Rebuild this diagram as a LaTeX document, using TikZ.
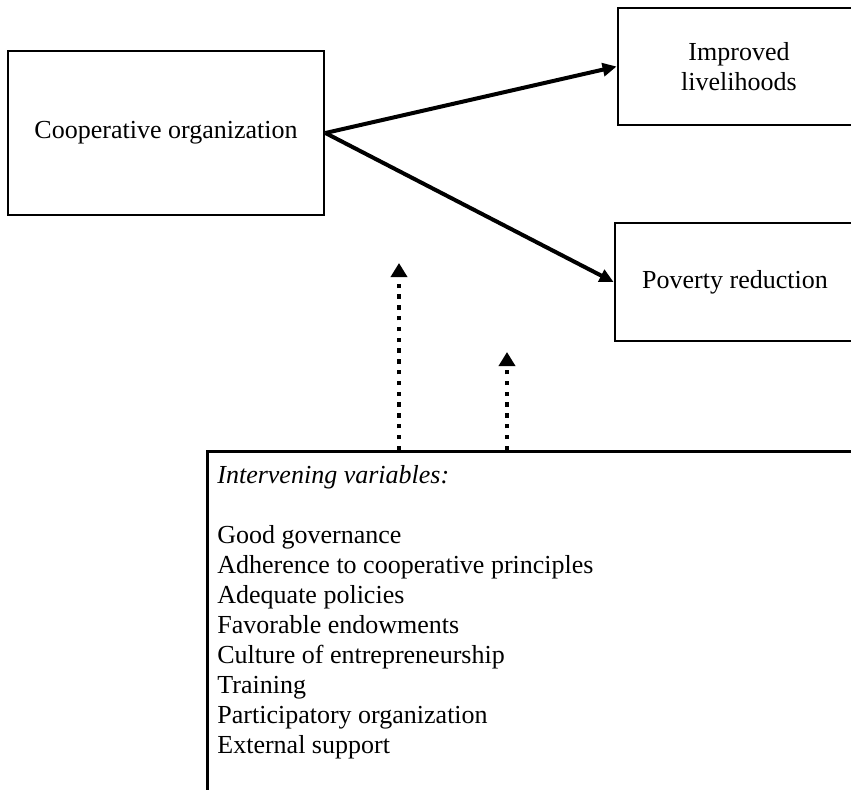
\documentclass[tikz,border=0pt]{standalone}
\usepackage{fontspec}
\setmainfont{Liberation Serif}
\usetikzlibrary{positioning, calc, arrows.meta}
\tikzset{
	box/.style={draw, line width=1.4pt, align=center, inner sep=0pt, font=\fontsize{13}{15}\selectfont},
	arrow/.style={line width=2pt, -{Triangle[length=7pt, width=6.5pt]}},
	dotarrow/.style={line width=2.2pt, dash pattern=on 2.2pt off 3.2pt, -{Triangle[length=7pt, width=8pt]}},
}

\begin{document}
\begin{tikzpicture}[x=0.5pt, y=-0.5pt]
	\clip (0,0) rectangle (851,789);

	% Cooperative and its outcomes
	\node[box, minimum width=158pt, minimum height=82pt] (coop) at (166,133) {Cooperative organization};
	\node[box, minimum width=121pt, minimum height=58.5pt] (liveli) at (739,66.5) {Improved\\livelihoods};
	\node[box, minimum width=120pt, minimum height=59pt] (poverty) at (735,282) {Poverty reduction};

	\draw[arrow] (coop.east) -- (liveli.west);
	\draw[arrow] (coop.east) -- (poverty.west);

	% Intervening variables
	\node[box, anchor=north west, minimum width=400pt, minimum height=250pt] (var) at (206,450) {};
	\node[anchor=north west, inner sep=0pt, align=left, font=\fontsize{13}{15}\selectfont] (varlist) at ($(var.north west)+(11,15)$) {%
		\textit{Intervening variables:}\\[15pt]
		Good governance\\
		Adherence to cooperative principles\\
		Adequate policies\\
		Favorable endowments\\
		Culture of entrepreneurship\\
		Training\\
		Participatory organization\\
		External support};

	\coordinate (up1) at (399,263);
	\coordinate (up2) at (507,352);
	\draw[dotarrow] (up1 |- var.north) -- (up1);
	\draw[dotarrow] (up2 |- var.north) -- (up2);
\end{tikzpicture}
\end{document}
